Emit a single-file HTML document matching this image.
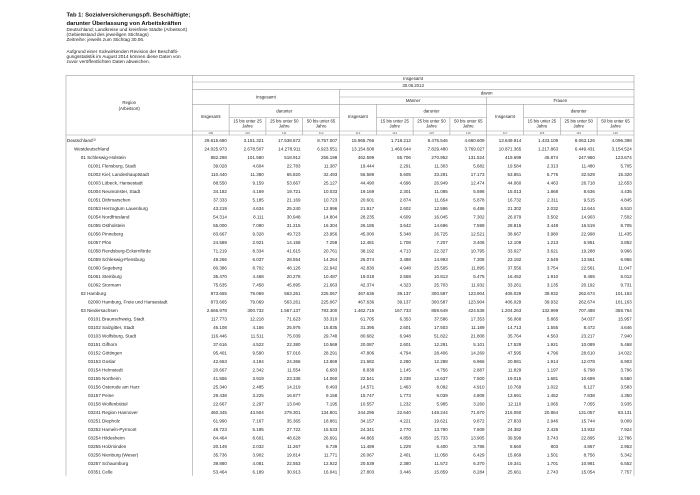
<!DOCTYPE html>
<html><head><meta charset="utf-8"><style>
html,body{margin:0;padding:0;background:#fff;width:700px;height:495px;overflow:hidden;}
#s{position:absolute;left:0;top:0;width:2800px;height:1980px;transform:scale(0.25);transform-origin:0 0;font-family:"Liberation Sans",Arial,sans-serif;color:#222;}
#s svg{position:absolute;left:0;top:0;}
.a{position:absolute;white-space:nowrap;line-height:1;}
.tt{font-size:23.6px;font-weight:bold;color:#111;left:266px;}
.st{font-size:18.8px;left:266px;}
.h{font-size:17.2px;line-height:1;transform:translateX(-50%);text-align:center;}
.h2{font-size:17.2px;line-height:20px;transform:translateX(-50%);text-align:center;}
.c{font-size:12px;color:#555;transform:translateX(-50%);top:526.2px;}
.r{position:absolute;left:0;width:2800px;height:34px;}
.r>span{position:absolute;top:0;line-height:18.4px;white-space:nowrap;font-size:18px;}
.r>span:first-child{font-size:18.4px;}
.l0{left:268px}.l1{left:296px}.l2{left:322.8px}.l3{left:352px}
.r>span:nth-child(2){right:1892.4px}
.r>span:nth-child(3){right:1745.2px}
.r>span:nth-child(4){right:1598px}
.r>span:nth-child(5){right:1450.8px}
.r>span:nth-child(6){right:1303.6px}
.r>span:nth-child(7){right:1156.4px}
.r>span:nth-child(8){right:1009.2px}
.r>span:nth-child(9){right:862px}
.r>span:nth-child(10){right:714.8px}
.r>span:nth-child(11){right:567.6px}
.r>span:nth-child(12){right:420.4px}
.r>span:nth-child(13){right:273.2px}
sup{font-size:11px;line-height:0;vertical-align:6px;}
</style></head><body>
<div id="s">
<svg width="2800" height="1980" viewBox="0 0 700 495" xmlns="http://www.w3.org/2000/svg">
<path fill="none" stroke="#a0a0a0" stroke-width="0.6" d="M66 75.3H634M192.3 82H634M192.3 89.3H634M339.5 97H634M192.3 104.3H634M229.1 117.5H339.5M376.3 117.5H486.7M523.5 117.5H634M192.3 131H634M66 135H634M66 75.3V475.7M192.3 75.3V475.7M634 75.3V475.7M339.5 89.3V475.7M486.7 97V475.7M229.1 104.3V135M376.3 104.3V135M523.5 104.3V135M265.9 117.5V135M302.7 117.5V135M413.1 117.5V135M449.9 117.5V135M560.3 117.5V135M597.1 117.5V135"/>
</svg>

<div class="a tt" style="top:48.4px">Tab 1: Sozialversicherungspfl. Beschäftigte;</div>
<div class="a tt" style="top:81.6px">darunter Überlassung von Arbeitskräften</div>
<div class="a st" style="top:109.3px">Deutschland; Landkreise und kreisfreie Städte (Arbeitsort)</div>
<div class="a st" style="top:129.3px">(Gebietsstand des jeweiligen Stichtags)</div>
<div class="a st" style="top:149.3px">Zeitreihe: jeweils zum Stichtag 30.06.</div>
<div class="a st" style="top:197.3px">Aufgrund einer rückwirkenden Revision der Beschäfti-</div>
<div class="a st" style="top:217.3px">gungsstatistik im August 2014 können diese Daten von</div>
<div class="a st" style="top:237.3px">zuvor veröffentlichten Daten abweichen.</div>

<div class="a h2" style="left:516.8px;top:397.2px;line-height:24px">Region<br>(Arbeitsort)</div>
<div class="a h" style="left:1652.4px;top:306.2px">Insgesamt</div>
<div class="a h" style="left:1652.4px;top:334.2px">30.06.2013</div>
<div class="a h" style="left:1063.6px;top:378.6px">Insgesamt</div>
<div class="a h" style="left:1946.8px;top:364.2px">davon</div>
<div class="a h" style="left:1652.4px;top:394.2px">Männer</div>
<div class="a h" style="left:2241.2px;top:394.2px">Frauen</div>
<div class="a h" style="left:842.8px;top:457.4px">Insgesamt</div>
<div class="a h" style="left:1431.6px;top:457.4px">Insgesamt</div>
<div class="a h" style="left:2020.4px;top:457.4px">Insgesamt</div>
<div class="a h" style="left:1137.2px;top:435px">darunter</div>
<div class="a h" style="left:1726px;top:435px">darunter</div>
<div class="a h" style="left:2314.8px;top:435px">darunter</div>
<div class="a h2" style="left:990px;top:474px">15 bis unter 25<br>Jahre</div>
<div class="a h2" style="left:1137.2px;top:474px">25 bis unter 50<br>Jahre</div>
<div class="a h2" style="left:1284.4px;top:474px">50 bis unter 65<br>Jahre</div>
<div class="a h2" style="left:1578.8px;top:474px">15 bis unter 25<br>Jahre</div>
<div class="a h2" style="left:1726px;top:474px">25 bis unter 50<br>Jahre</div>
<div class="a h2" style="left:1873.2px;top:474px">50 bis unter 65<br>Jahre</div>
<div class="a h2" style="left:2167.6px;top:474px">15 bis unter 25<br>Jahre</div>
<div class="a h2" style="left:2314.8px;top:474px">25 bis unter 50<br>Jahre</div>
<div class="a h2" style="left:2462px;top:474px">50 bis unter 65<br>Jahre</div>
<div class="a c" style="left:842.8px">109</div>
<div class="a c" style="left:990px">110</div>
<div class="a c" style="left:1137.2px">111</div>
<div class="a c" style="left:1284.4px">112</div>
<div class="a c" style="left:1431.6px">113</div>
<div class="a c" style="left:1578.8px">114</div>
<div class="a c" style="left:1726px">115</div>
<div class="a c" style="left:1873.2px">116</div>
<div class="a c" style="left:2020.4px">117</div>
<div class="a c" style="left:2167.6px">118</div>
<div class="a c" style="left:2314.8px">119</div>
<div class="a c" style="left:2462px">120</div>

<div class="r" style="top:552px"><span class="l0">Deutschland<sup>(1)</sup></span><span>29.615.680</span><span>3.151.321</span><span>17.538.672</span><span>8.757.007</span><span>15.965.766</span><span>1.718.212</span><span>9.475.546</span><span>4.660.609</span><span>13.649.914</span><span>1.433.109</span><span>8.063.126</span><span>4.096.398</span></div>
<div class="r" style="top:586px"><span class="l1">Westdeutschland</span><span>24.025.973</span><span>2.678.507</span><span>14.278.911</span><span>6.923.551</span><span>13.154.608</span><span>1.460.644</span><span>7.829.480</span><span>3.769.027</span><span>10.871.365</span><span>1.217.863</span><span>6.449.431</span><span>3.154.524</span></div>
<div class="r" style="top:620px"><span class="l2">01 Schleswig-Holstein</span><span>882.298</span><span>101.580</span><span>518.912</span><span>255.198</span><span>462.599</span><span>55.706</span><span>270.952</span><span>131.524</span><span>419.699</span><span>45.874</span><span>247.960</span><span>123.674</span></div>
<div class="r" style="top:654px"><span class="l3">01001 Flensburg, Stadt</span><span>39.028</span><span>4.604</span><span>22.783</span><span>11.387</span><span>19.444</span><span>2.291</span><span>11.303</span><span>5.682</span><span>19.584</span><span>2.313</span><span>11.480</span><span>5.705</span></div>
<div class="r" style="top:688px"><span class="l3">01002 Kiel, Landeshauptstadt</span><span>110.440</span><span>11.380</span><span>65.820</span><span>32.493</span><span>56.589</span><span>5.605</span><span>33.291</span><span>17.173</span><span>53.851</span><span>5.775</span><span>32.529</span><span>15.320</span></div>
<div class="r" style="top:722px"><span class="l3">01003 Lübeck, Hansestadt</span><span>88.550</span><span>9.159</span><span>53.667</span><span>25.127</span><span>44.490</span><span>4.696</span><span>26.949</span><span>12.474</span><span>44.060</span><span>4.463</span><span>26.718</span><span>12.653</span></div>
<div class="r" style="top:756px"><span class="l3">01004 Neumünster, Stadt</span><span>34.182</span><span>4.169</span><span>19.721</span><span>10.033</span><span>19.169</span><span>2.301</span><span>11.085</span><span>5.598</span><span>15.013</span><span>1.868</span><span>8.636</span><span>4.435</span></div>
<div class="r" style="top:790px"><span class="l3">01051 Dithmarschen</span><span>37.333</span><span>5.185</span><span>21.169</span><span>10.723</span><span>20.601</span><span>2.874</span><span>11.654</span><span>5.878</span><span>16.732</span><span>2.311</span><span>9.515</span><span>4.845</span></div>
<div class="r" style="top:824px"><span class="l3">01053 Herzogtum Lauenburg</span><span>43.219</span><span>4.634</span><span>25.240</span><span>12.996</span><span>21.917</span><span>2.602</span><span>12.596</span><span>6.486</span><span>21.302</span><span>2.032</span><span>12.644</span><span>6.510</span></div>
<div class="r" style="top:858px"><span class="l3">01054 Nordfriesland</span><span>54.314</span><span>8.111</span><span>30.948</span><span>14.804</span><span>28.235</span><span>4.609</span><span>16.045</span><span>7.302</span><span>26.079</span><span>3.502</span><span>14.903</span><span>7.502</span></div>
<div class="r" style="top:892px"><span class="l3">01055 Ostholstein</span><span>55.000</span><span>7.090</span><span>31.215</span><span>16.304</span><span>26.185</span><span>3.642</span><span>14.696</span><span>7.599</span><span>28.815</span><span>3.448</span><span>16.519</span><span>8.705</span></div>
<div class="r" style="top:926px"><span class="l3">01056 Pinneberg</span><span>83.667</span><span>9.328</span><span>49.723</span><span>23.956</span><span>45.000</span><span>5.348</span><span>26.725</span><span>12.521</span><span>38.667</span><span>3.980</span><span>22.998</span><span>11.435</span></div>
<div class="r" style="top:960px"><span class="l3">01057 Plön</span><span>24.589</span><span>2.921</span><span>14.158</span><span>7.258</span><span>12.481</span><span>1.708</span><span>7.207</span><span>3.406</span><span>12.108</span><span>1.213</span><span>6.951</span><span>3.852</span></div>
<div class="r" style="top:994px"><span class="l3">01058 Rendsburg-Eckernförde</span><span>71.219</span><span>8.334</span><span>41.615</span><span>20.761</span><span>38.192</span><span>4.713</span><span>22.327</span><span>10.795</span><span>33.027</span><span>3.621</span><span>19.288</span><span>9.966</span></div>
<div class="r" style="top:1028px"><span class="l3">01059 Schleswig-Flensburg</span><span>49.266</span><span>6.037</span><span>28.554</span><span>14.264</span><span>26.074</span><span>3.488</span><span>14.993</span><span>7.308</span><span>23.192</span><span>2.549</span><span>13.561</span><span>6.956</span></div>
<div class="r" style="top:1062px"><span class="l3">01060 Segeberg</span><span>80.386</span><span>8.702</span><span>48.126</span><span>22.942</span><span>42.830</span><span>4.948</span><span>25.565</span><span>11.895</span><span>37.556</span><span>3.754</span><span>22.561</span><span>11.047</span></div>
<div class="r" style="top:1096px"><span class="l3">01061 Steinburg</span><span>35.470</span><span>4.468</span><span>20.278</span><span>10.487</span><span>19.018</span><span>2.558</span><span>10.813</span><span>5.475</span><span>16.452</span><span>1.910</span><span>9.465</span><span>5.012</span></div>
<div class="r" style="top:1130px"><span class="l3">01062 Stormarn</span><span>75.635</span><span>7.458</span><span>45.895</span><span>21.663</span><span>42.374</span><span>4.323</span><span>25.703</span><span>11.932</span><span>33.261</span><span>3.135</span><span>20.192</span><span>9.731</span></div>
<div class="r" style="top:1164px"><span class="l2">02 Hamburg</span><span>873.665</span><span>79.069</span><span>563.261</span><span>225.067</span><span>467.636</span><span>39.137</span><span>300.587</span><span>123.904</span><span>406.029</span><span>39.932</span><span>262.674</span><span>101.163</span></div>
<div class="r" style="top:1198px"><span class="l3">02000 Hamburg, Freie und Hansestadt</span><span>873.665</span><span>79.069</span><span>563.261</span><span>225.067</span><span>467.636</span><span>39.137</span><span>300.587</span><span>123.904</span><span>406.029</span><span>39.932</span><span>262.674</span><span>101.163</span></div>
<div class="r" style="top:1232px"><span class="l2">03 Niedersachsen</span><span>2.666.978</span><span>300.732</span><span>1.567.137</span><span>783.300</span><span>1.462.715</span><span>167.733</span><span>859.649</span><span>424.536</span><span>1.204.263</span><span>132.999</span><span>707.488</span><span>358.764</span></div>
<div class="r" style="top:1266px"><span class="l3">03101 Braunschweig, Stadt</span><span>117.773</span><span>12.218</span><span>71.623</span><span>33.310</span><span>61.705</span><span>6.353</span><span>37.586</span><span>17.353</span><span>56.068</span><span>5.865</span><span>34.037</span><span>15.957</span></div>
<div class="r" style="top:1300px"><span class="l3">03102 Salzgitter, Stadt</span><span>46.108</span><span>4.156</span><span>25.975</span><span>15.835</span><span>31.395</span><span>2.601</span><span>17.503</span><span>11.189</span><span>14.713</span><span>1.555</span><span>8.472</span><span>4.646</span></div>
<div class="r" style="top:1334px"><span class="l3">03103 Wolfsburg, Stadt</span><span>116.446</span><span>11.511</span><span>75.039</span><span>29.748</span><span>80.682</span><span>6.948</span><span>51.822</span><span>21.808</span><span>35.764</span><span>4.563</span><span>23.217</span><span>7.940</span></div>
<div class="r" style="top:1368px"><span class="l3">03151 Gifhorn</span><span>37.616</span><span>4.522</span><span>22.380</span><span>10.569</span><span>20.087</span><span>2.601</span><span>12.291</span><span>5.101</span><span>17.529</span><span>1.921</span><span>10.089</span><span>5.468</span></div>
<div class="r" style="top:1402px"><span class="l3">03152 Göttingen</span><span>95.401</span><span>9.590</span><span>57.016</span><span>28.291</span><span>47.806</span><span>4.794</span><span>28.406</span><span>14.269</span><span>47.595</span><span>4.796</span><span>28.610</span><span>14.022</span></div>
<div class="r" style="top:1436px"><span class="l3">03153 Goslar</span><span>42.663</span><span>4.194</span><span>24.366</span><span>13.869</span><span>21.682</span><span>2.280</span><span>12.288</span><span>6.966</span><span>20.981</span><span>1.914</span><span>12.078</span><span>6.903</span></div>
<div class="r" style="top:1470px"><span class="l3">03154 Helmstedt</span><span>20.667</span><span>2.342</span><span>11.554</span><span>6.683</span><span>8.838</span><span>1.145</span><span>4.756</span><span>2.887</span><span>11.829</span><span>1.197</span><span>6.798</span><span>3.796</span></div>
<div class="r" style="top:1504px"><span class="l3">03155 Northeim</span><span>41.556</span><span>3.919</span><span>23.336</span><span>14.060</span><span>22.541</span><span>2.238</span><span>12.637</span><span>7.500</span><span>19.015</span><span>1.681</span><span>10.699</span><span>6.560</span></div>
<div class="r" style="top:1538px"><span class="l3">03156 Osterode am Harz</span><span>25.340</span><span>2.485</span><span>14.219</span><span>8.493</span><span>14.571</span><span>1.463</span><span>8.092</span><span>4.910</span><span>10.769</span><span>1.022</span><span>6.127</span><span>3.583</span></div>
<div class="r" style="top:1572px"><span class="l3">03157 Peine</span><span>29.438</span><span>3.225</span><span>16.877</span><span>9.158</span><span>15.747</span><span>1.773</span><span>9.039</span><span>4.808</span><span>13.691</span><span>1.452</span><span>7.838</span><span>4.350</span></div>
<div class="r" style="top:1606px"><span class="l3">03158 Wolfenbüttel</span><span>22.667</span><span>2.297</span><span>13.040</span><span>7.195</span><span>10.557</span><span>1.232</span><span>5.985</span><span>3.260</span><span>12.110</span><span>1.065</span><span>7.055</span><span>3.935</span></div>
<div class="r" style="top:1640px"><span class="l3">03241 Region Hannover</span><span>460.345</span><span>43.504</span><span>279.301</span><span>134.801</span><span>244.295</span><span>22.640</span><span>148.244</span><span>71.670</span><span>216.050</span><span>20.864</span><span>131.057</span><span>63.131</span></div>
<div class="r" style="top:1674px"><span class="l3">03251 Diepholz</span><span>61.990</span><span>7.167</span><span>35.365</span><span>18.881</span><span>34.157</span><span>4.221</span><span>19.621</span><span>9.872</span><span>27.833</span><span>2.946</span><span>15.744</span><span>9.009</span></div>
<div class="r" style="top:1708px"><span class="l3">03252 Hameln-Pyrmont</span><span>48.723</span><span>5.195</span><span>27.722</span><span>15.533</span><span>24.341</span><span>2.770</span><span>13.790</span><span>7.609</span><span>24.382</span><span>2.425</span><span>13.932</span><span>7.924</span></div>
<div class="r" style="top:1742px"><span class="l3">03254 Hildesheim</span><span>84.464</span><span>8.601</span><span>48.628</span><span>26.691</span><span>44.865</span><span>4.858</span><span>25.733</span><span>13.905</span><span>39.599</span><span>3.743</span><span>22.895</span><span>12.786</span></div>
<div class="r" style="top:1776px"><span class="l3">03255 Holzminden</span><span>20.149</span><span>2.032</span><span>11.267</span><span>6.739</span><span>11.489</span><span>1.229</span><span>6.400</span><span>3.786</span><span>8.660</span><span>803</span><span>4.867</span><span>2.953</span></div>
<div class="r" style="top:1810px"><span class="l3">03256 Nienburg (Weser)</span><span>35.736</span><span>3.902</span><span>19.814</span><span>11.771</span><span>20.067</span><span>2.401</span><span>11.058</span><span>6.429</span><span>15.669</span><span>1.501</span><span>8.756</span><span>5.342</span></div>
<div class="r" style="top:1844px"><span class="l3">03257 Schaumburg</span><span>39.880</span><span>4.081</span><span>22.553</span><span>12.922</span><span>20.539</span><span>2.380</span><span>11.572</span><span>6.370</span><span>19.341</span><span>1.701</span><span>10.981</span><span>6.552</span></div>
<div class="r" style="top:1878px"><span class="l3">03351 Celle</span><span>53.464</span><span>6.189</span><span>30.913</span><span>16.041</span><span>27.803</span><span>3.446</span><span>15.859</span><span>8.284</span><span>25.661</span><span>2.743</span><span>15.054</span><span>7.757</span></div>
</div>
</body></html>
